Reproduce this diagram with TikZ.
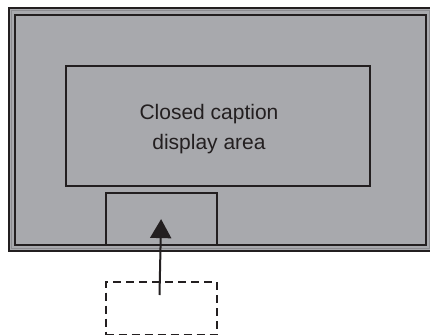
\documentclass[tikz,border=0pt]{standalone}
\usepackage{fontspec}
\setmainfont{Liberation Sans}
\usetikzlibrary{arrows.meta}
\definecolor{panel}{RGB}{168,169,173}
\definecolor{ink}{RGB}{35,31,32}
\tikzset{
  box/.style={draw=ink, line width=2.2pt, fill=panel, inner sep=0pt},
  dashbox/.style={draw=ink, line width=2.2pt, dash pattern=on 8pt off 5pt, inner sep=0pt},
  lbl/.style={text=ink, font=\fontsize{21}{30}\selectfont, anchor=base, inner sep=0pt},
  conn/.style={draw=ink, line width=2pt, -{Triangle[length=19pt,width=21pt]}}
}
\begin{document}
\begin{tikzpicture}[x=1pt,y=-1pt]
\useasboundingbox (0,0) rectangle (430,334);
\fill[white] (0,0) rectangle (430,334);
% outer frame
\node[box, line width=2pt, minimum width=423pt, minimum height=242.5pt, anchor=north west] (frame) at (8,7.5) {};
\node[draw=ink!20!panel, line width=0.8pt, minimum width=418pt, minimum height=237.5pt, inner sep=0pt, anchor=north west] (rim) at (10.5,10) {};
\node[box, minimum width=411pt, minimum height=230pt, anchor=north west] (screen) at (14,14) {};
% caption display area
\node[box, minimum width=304pt, minimum height=120pt, anchor=north west] (area) at (65,65) {};
\node[lbl] (l1) at (209,119) {Closed caption};
\node[lbl] (l2) at (209,149) {display area};
% small box
\node[box, minimum width=111pt, minimum height=52pt, anchor=north west] (small) at (104.5,192) {};
% dashed box
\node[dashbox, minimum width=111pt, minimum height=53pt, anchor=north west] (ghost) at (104.5,280.5) {};
\coordinate (tail) at (159.5,295);
\draw[conn] (tail) -- (small.center);
\end{tikzpicture}
\end{document}
